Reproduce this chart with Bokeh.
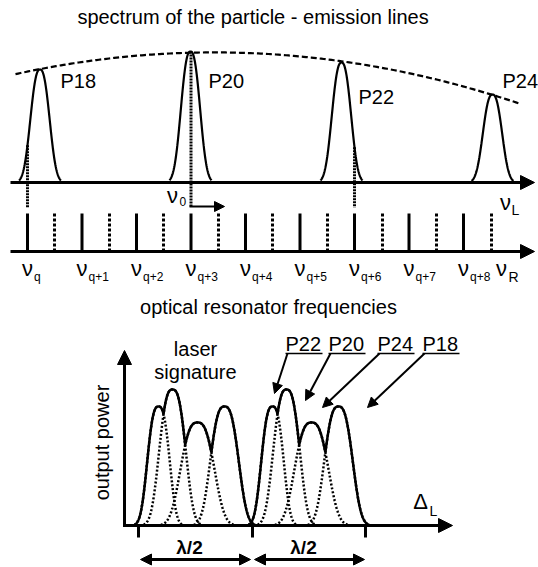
import numpy as np
from bokeh.plotting import figure
from bokeh.models import Range1d, Arrow, NormalHead
from bokeh.core.properties import value
from bokeh.embed import file_html
from bokeh.resources import INLINE

FONT = "Liberation Sans"

# ---------------- data (diagram coordinates) ----------------
title_text = "spectrum of the particle - emission lines"
bottom_title = "optical resonator frequencies"

line_names = ["P18", "P20", "P22", "P24"]          # emission lines
line_pos = [39.5, 190, 341, 492]                    # line centres
line_peak = [69, 51, 62, 94]                        # peak tops
line_label_x = [60, 208, 358, 502]
line_label_y = [80, 80, 96, 80]
spec_base = 182                                     # nu_L axis level

mode_pos = [27, 81.5, 136, 190.5, 245, 299.5, 354, 408.5, 463]   # resonator modes
mode_sub = ["q", "q+1", "q+2", "q+3", "q+4", "q+5", "q+6", "q+7", "q+8"]
half_pos = [54, 109, 163, 218, 272, 327, 382, 436, 491]          # dotted modes
res_base = 251
res_top = 213

coinc_pos = [27, 190.5, 354]        # line/mode coincidences (dotted)

sig_names = ["P22", "P20", "P24", "P18"]   # laser signature peaks
sig_pos = [158, 172, 197, 224]
sig_peak = [406, 389, 422, 406]
sig_width = [13.4, 16.0, 20.4, 17.0]
sig_period = 114                    # lambda/2 shift
sig_base = 525
tick_pos = [138, 252, 365]

# ---------------- figure ----------------
p = figure(width=538, height=567, x_range=Range1d(0, 538), y_range=Range1d(567, 0),
           output_backend="svg", toolbar_location=None, min_border=0,
           x_axis_location=None, y_axis_location=None)
p.grid.visible = False
p.outline_line_color = None
p.background_fill_color = "white"


def txt(x, y, s, size=20, align="center", baseline="middle", style="normal", angle=0.0):
    p.text(x=x, y=y, text=s, text_font=value(FONT), text_font_size=value(f"{size}px"),
           text_align=align, text_baseline=baseline, text_font_style=style,
           text_color="black", angle=angle)


def arrow(x0, y0, x1, y1, lw=2, size=10, both=False):
    end = NormalHead(size=size, fill_color="black", line_color="black", line_width=1)
    start = NormalHead(size=size, fill_color="black", line_color="black", line_width=1) if both else None
    p.add_layout(Arrow(start=start, end=end, x_start=x0, y_start=y0, x_end=x1, y_end=y1,
                       line_width=lw, line_color="black"))


# ---- top spectrum ----
txt([252.5], [16], [title_text])

W_TOP, P_TOP = 12.0, 2.5


def top_profile(x, c, top):
    return spec_base - (spec_base - top) * np.exp(-(np.abs(x - c) / W_TOP) ** P_TOP)


for c, t in zip(line_pos, line_peak):
    xs = np.linspace(c - 1.75 * W_TOP, c + 1.75 * W_TOP, 120)
    p.line(xs, top_profile(xs, c, t), line_color="black", line_width=2.2)

# dashed envelope through line tops
coef = np.polyfit(line_pos, line_peak, 2)
ex = np.linspace(15, 518, 200)
p.line(ex, np.polyval(coef, ex), line_color="black", line_width=2.2, line_dash="6 3")

txt(line_label_x, line_label_y, line_names, align="left")

# coincidence dotted lines
for xc in coinc_pos:
    i = int(np.argmin(np.abs(np.array(line_pos) - xc)))
    ytop = top_profile(xc, line_pos[i], line_peak[i])
    ybot = 206 if xc == 190.5 else 207
    p.line([xc, xc], [ytop, ybot], line_color="black", line_width=3, line_dash="2 1")

arrow(189, 206, 224, 206, lw=2, size=10)
txt([172], [195], ["ν"], size=22, align="center")
txt([179], [201], ["0"], size=12, align="left")

arrow(10, spec_base, 534, spec_base, lw=3, size=14)
txt([505], [202], ["ν"], size=22, align="center")
txt([511], [209], ["L"], size=14, align="left")

# ---- resonator modes ----
p.segment(x0=mode_pos, y0=[res_top] * len(mode_pos), x1=mode_pos, y1=[res_base] * len(mode_pos),
          line_color="black", line_width=3)
p.segment(x0=half_pos, y0=[res_top] * len(half_pos), x1=half_pos, y1=[res_base] * len(half_pos),
          line_color="black", line_width=3, line_dash="3 2")
arrow(10, res_base, 534, res_base, lw=3, size=14)

txt(mode_pos, [268] * len(mode_pos), ["ν"] * len(mode_pos), size=22, align="center")
txt([m + 6.5 for m in mode_pos], [276] * len(mode_pos), mode_sub, size=12, align="left")
txt([501], [268], ["ν"], size=22, align="center")
txt([508], [276], ["R"], size=14, align="left")

txt([268], [306], [bottom_title])

# ---- laser signature ----
P_SIG = 2.78


def sig_profile(x, c, top, w):
    return (sig_base - top) * np.exp(-(np.abs(x - c) / w) ** P_SIG)


for k in range(2):
    shift = k * sig_period
    gx = np.linspace(sig_pos[0] + shift - 1.8 * sig_width[0],
                     sig_pos[-1] + shift + 1.8 * sig_width[-1], 400)
    env = np.zeros_like(gx)
    for c, t, w in zip(sig_pos, sig_peak, sig_width):
        xs = np.linspace(c + shift - 1.8 * w, c + shift + 1.8 * w, 120)
        p.line(xs, sig_base - sig_profile(xs, c + shift, t, w), line_color="black",
               line_width=2.5, line_dash="2 2")
        env = np.maximum(env, sig_profile(gx, c + shift, t, w))
    p.line(gx, sig_base - env, line_color="black", line_width=2.5)

# axes
arrow(124, sig_base + 1.5, 124, 350, lw=3, size=14)
arrow(122.5, sig_base, 452, sig_base, lw=3, size=14)
p.segment(x0=tick_pos, y0=[sig_base] * 3, x1=tick_pos, y1=[537] * 3, line_color="black", line_width=3)

arrow(140, 559, 250, 559, lw=3, size=11, both=True)
arrow(254, 559, 364, 559, lw=3, size=11, both=True)
txt([189, 303], [547, 547], ["λ/2", "λ/2"], size=19, style="bold")

txt([101], [442], ["output power"], angle=np.pi / 2)
txt([195, 195], [348, 371], ["laser", "signature"])
txt([420], [501], ["Δ"], size=22, align="center")
txt([429], [510], ["L"], size=14, align="left")

# labels with pointing arrows
lab_x = [285, 328, 377, 422]
txt(lab_x, [343] * 4, sig_names, align="left")
p.segment(x0=lab_x, y0=[353] * 4, x1=[x + 37 for x in lab_x], y1=[353] * 4,
          line_color="black", line_width=1.5)
tips = [(274, 393), (305, 400), (322, 407), (367, 407)]
for lx, (tx, ty) in zip(lab_x, tips):
    arrow(lx + 2, 353, tx, ty, lw=2, size=10)

open("out.html", "w").write(file_html(p, INLINE))
